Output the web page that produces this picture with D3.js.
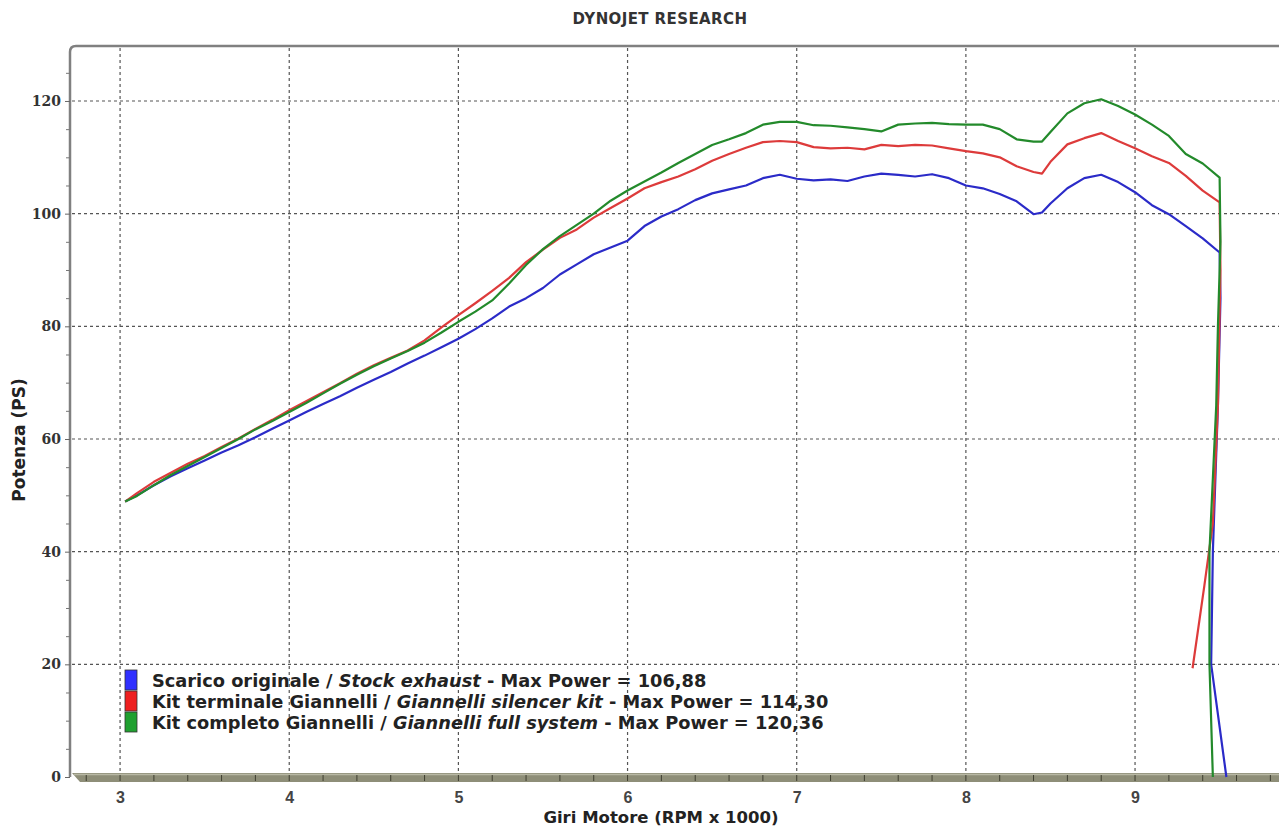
<!DOCTYPE html>
<html>
<head>
<meta charset="utf-8">
<script src="https://cdn.jsdelivr.net/npm/d3@7/dist/d3.min.js"></script>
<style>
  body { margin: 0; background: #fff; }
  svg { display: block; }
</style>
</head>
<body>
<svg width="1279" height="827"></svg>
<script>
// rpm x 1000, shared by the three runs
var rpm = [3.03, 3.1, 3.2, 3.3, 3.4, 3.5, 3.6, 3.7, 3.8, 3.9,
           4.0, 4.1, 4.2, 4.3, 4.4, 4.5, 4.6, 4.7, 4.8, 4.9,
           5.0, 5.1, 5.2, 5.3, 5.4, 5.5, 5.6, 5.7, 5.8, 5.9,
           6.0, 6.1, 6.2, 6.3, 6.4, 6.5, 6.6, 6.7, 6.8, 6.9,
           7.0, 7.1, 7.2, 7.3, 7.4, 7.5, 7.6, 7.7, 7.8, 7.9,
           8.0, 8.1, 8.2, 8.3, 8.4, 8.45, 8.5, 8.6, 8.7, 8.8,
           8.9, 9.0, 9.1, 9.2, 9.3, 9.4, 9.5];

var stockPower = [48.9, 50.0, 51.8, 53.4, 54.8, 56.2, 57.6, 58.9, 60.3, 61.8,
                  63.3, 64.8, 66.2, 67.6, 69.1, 70.5, 71.9, 73.4, 74.8, 76.3,
                  77.8, 79.5, 81.4, 83.5, 85.0, 86.8, 89.2, 91.0, 92.8, 94.0,
                  95.2, 97.8, 99.5, 100.8, 102.4, 103.6, 104.3, 105.0, 106.3, 106.9,
                  106.2, 105.9, 106.1, 105.8, 106.6, 107.1, 106.9, 106.6, 107.0, 106.3,
                  105.0, 104.5, 103.5, 102.2, 99.9, 100.2, 101.8, 104.5, 106.3, 106.9,
                  105.6, 103.8, 101.5, 99.9, 97.8, 95.6, 93.1];

var silencerPower = [48.9, 50.4, 52.4, 54.0, 55.6, 57.0, 58.6, 60.1, 61.8, 63.4,
                     65.1, 66.7, 68.3, 69.9, 71.6, 73.1, 74.4, 75.7, 77.5, 79.8,
                     82.0, 84.1, 86.3, 88.6, 91.4, 93.6, 95.7, 97.2, 99.3, 101.0,
                     102.7, 104.5, 105.6, 106.6, 107.9, 109.4, 110.6, 111.7, 112.7, 112.9,
                     112.7, 111.8, 111.6, 111.7, 111.4, 112.2, 112.0, 112.2, 112.1, 111.6,
                     111.1, 110.7, 110.0, 108.4, 107.4, 107.1, 109.2, 112.3, 113.4, 114.3,
                     112.9, 111.6, 110.2, 109.0, 106.7, 104.1, 102.0];

var fullPower = [48.9, 49.9, 51.8, 53.6, 55.2, 56.8, 58.4, 60.0, 61.7, 63.2,
                 64.8, 66.4, 68.1, 69.8, 71.4, 72.9, 74.3, 75.6, 77.1, 78.9,
                 80.8, 82.6, 84.6, 87.6, 90.9, 93.7, 96.0, 98.0, 100.0, 102.3,
                 104.1, 105.7, 107.3, 109.0, 110.6, 112.2, 113.2, 114.3, 115.8, 116.3,
                 116.3, 115.7, 115.6, 115.3, 115.0, 114.6, 115.8, 116.0, 116.1, 115.9,
                 115.8, 115.8, 115.0, 113.2, 112.8, 112.8, 114.5, 117.8, 119.6, 120.3,
                 119.1, 117.6, 115.8, 113.8, 110.6, 108.9, 106.4];

// the drop after the cut-off
var stockTailRpm = [9.505, 9.49, 9.46, 9.45, 9.54];
var stockTailPower = [85, 66, 40, 20, 0];
var silencerTailRpm = [9.505, 9.49, 9.46, 9.41, 9.34];
var silencerTailPower = [90, 66, 45, 34, 19.3];
var fullTailRpm = [9.505, 9.49, 9.48, 9.44, 9.44, 9.46];
var fullTailPower = [95, 80, 66, 40, 20, 0];

var xTicks = [3, 4, 5, 6, 7, 8, 9];
var yTicks = [0, 20, 40, 60, 80, 100, 120];

var legendPlain = ["Scarico originale / ", "Kit terminale Giannelli / ", "Kit completo Giannelli / "];
var legendItalic = ["Stock exhaust", "Giannelli silencer kit", "Giannelli full system"];
var legendMax = [" - Max Power = 106,88", " - Max Power = 114,30", " - Max Power = 120,36"];
var colors = ["#2b2bc8", "#dd3b3b", "#238a2b"];
var swatch = ["#3030ff", "#ee2020", "#20a030"];

var font = "DejaVu Sans, Verdana, sans-serif";

var svg = d3.select("svg");
var x = d3.scaleLinear().domain([2.704, 9.851]).range([70, 1279]);
var y = d3.scaleLinear().domain([0, 129.76]).range([777, 46]);

var join = function(power, tailRpm, tailPower) {
  var pts = rpm.map(function(r, i) { return [r, power[i]]; });
  tailRpm.forEach(function(r, i) { pts.push([r, tailPower[i]]); });
  return pts;
};
var series = [
  join(stockPower, stockTailRpm, stockTailPower),
  join(silencerPower, silencerTailRpm, silencerTailPower),
  join(fullPower, fullTailRpm, fullTailPower)
];

// title
svg.append("text")
  .attr("x", 660).attr("y", 24)
  .attr("text-anchor", "middle")
  .attr("font-family", font)
  .attr("font-weight", "bold").attr("font-size", 15)
  .attr("letter-spacing", 0.4)
  .attr("fill", "#333")
  .text("DYNOJET RESEARCH");

// grid
svg.append("g").selectAll("line")
  .data(yTicks.slice(1))
  .enter().append("line")
  .attr("x1", 72).attr("x2", 1279)
  .attr("y1", function(d) { return y(d); }).attr("y2", function(d) { return y(d); })
  .attr("stroke", "#555").attr("stroke-width", 1.2).attr("stroke-dasharray", "3,3");

svg.append("g").selectAll("line")
  .data(xTicks)
  .enter().append("line")
  .attr("x1", function(d) { return x(d); }).attr("x2", function(d) { return x(d); })
  .attr("y1", 48).attr("y2", 774)
  .attr("stroke", "#555").attr("stroke-width", 1.2).attr("stroke-dasharray", "3,3");

// frame: left and top with rounded corner
svg.append("path")
  .attr("d", "M70,777 L70,52 Q70,46 76,46 L1279,46")
  .attr("fill", "none").attr("stroke", "#808080").attr("stroke-width", 2.5);

// y axis ticks
var yAxis = d3.axisLeft(y).tickValues(yTicks).tickSize(5).tickPadding(4)
  .tickFormat(d3.format("d"));
var gy = svg.append("g").attr("transform", "translate(70,0)").call(yAxis);
gy.select(".domain").remove();
gy.selectAll("line").attr("stroke", "#666");
gy.selectAll("text")
  .attr("font-family", "DejaVu Serif, serif").attr("font-weight", "bold")
  .attr("font-size", 14).attr("fill", "#333");
var gyMinor = svg.append("g").attr("transform", "translate(70,0)")
  .call(d3.axisLeft(y).tickValues(d3.range(5, 130, 5).filter(function(v) { return v % 20 != 0; }))
    .tickSize(4).tickFormat(""));
gyMinor.select(".domain").remove();
gyMinor.selectAll("line").attr("stroke", "#777");

// bottom axis band
svg.append("path")
  .attr("d", "M72,773 L1279,773 L1279,782 L80,782 Z")
  .attr("fill", "#8e8e78");
svg.append("line")
  .attr("x1", 74).attr("x2", 1279).attr("y1", 774.5).attr("y2", 774.5)
  .attr("stroke", "#b8b8a4").attr("stroke-width", 1.5);
var xAxis = d3.axisBottom(x).tickValues(xTicks).tickSize(0).tickPadding(13)
  .tickFormat(d3.format("d"));
var gx = svg.append("g").attr("transform", "translate(0,779)").call(xAxis);
gx.select(".domain").remove();
gx.selectAll("text")
  .attr("font-family", "Liberation Sans Narrow, Liberation Sans, sans-serif").attr("font-weight", "bold")
  .attr("font-size", 16).attr("fill", "#444");
svg.append("g").selectAll("line")
  .data(d3.range(2.8, 9.85, 0.2))
  .enter().append("line")
  .attr("x1", function(d) { return x(d); }).attr("x2", function(d) { return x(d); })
  .attr("y1", 775).attr("y2", 781)
  .attr("stroke", "#3e3e30").attr("stroke-width", 1);

// curves
var line = d3.line()
  .x(function(d) { return x(d[0]); })
  .y(function(d) { return y(d[1]); });

svg.append("g").selectAll("path")
  .data(series)
  .enter().append("path")
  .attr("d", line)
  .attr("fill", "none")
  .attr("stroke", function(d, i) { return colors[i]; })
  .attr("stroke-width", 2.2)
  .attr("stroke-linejoin", "round");

// axis titles
svg.append("text")
  .attr("transform", "translate(25,440) rotate(-90)")
  .attr("text-anchor", "middle")
  .attr("font-family", font)
  .attr("font-weight", "bold").attr("font-size", 17).attr("fill", "#222")
  .text("Potenza (PS)");

svg.append("text")
  .attr("x", 661).attr("y", 823)
  .attr("text-anchor", "middle")
  .attr("font-family", font)
  .attr("font-weight", "bold").attr("font-size", 16.5).attr("fill", "#222")
  .text("Giri Motore (RPM x 1000)");

// legend
var leg = svg.append("g");
leg.selectAll("rect")
  .data(swatch)
  .enter().append("rect")
  .attr("x", 125).attr("y", function(d, i) { return 670 + i * 21; })
  .attr("width", 12).attr("height", 20)
  .attr("fill", function(d) { return d; })
  .attr("stroke", "#333").attr("stroke-width", 0.8);

var rows = leg.selectAll("text")
  .data(legendPlain)
  .enter().append("text")
  .attr("x", 152).attr("y", function(d, i) { return 687 + i * 21; })
  .attr("font-family", font)
  .attr("font-weight", "bold").attr("font-size", 17.8).attr("fill", "#222");
rows.append("tspan").text(function(d) { return d; });
rows.append("tspan").attr("font-style", "italic").text(function(d, i) { return legendItalic[i]; });
rows.append("tspan").text(function(d, i) { return legendMax[i]; });
</script>
</body>
</html>
